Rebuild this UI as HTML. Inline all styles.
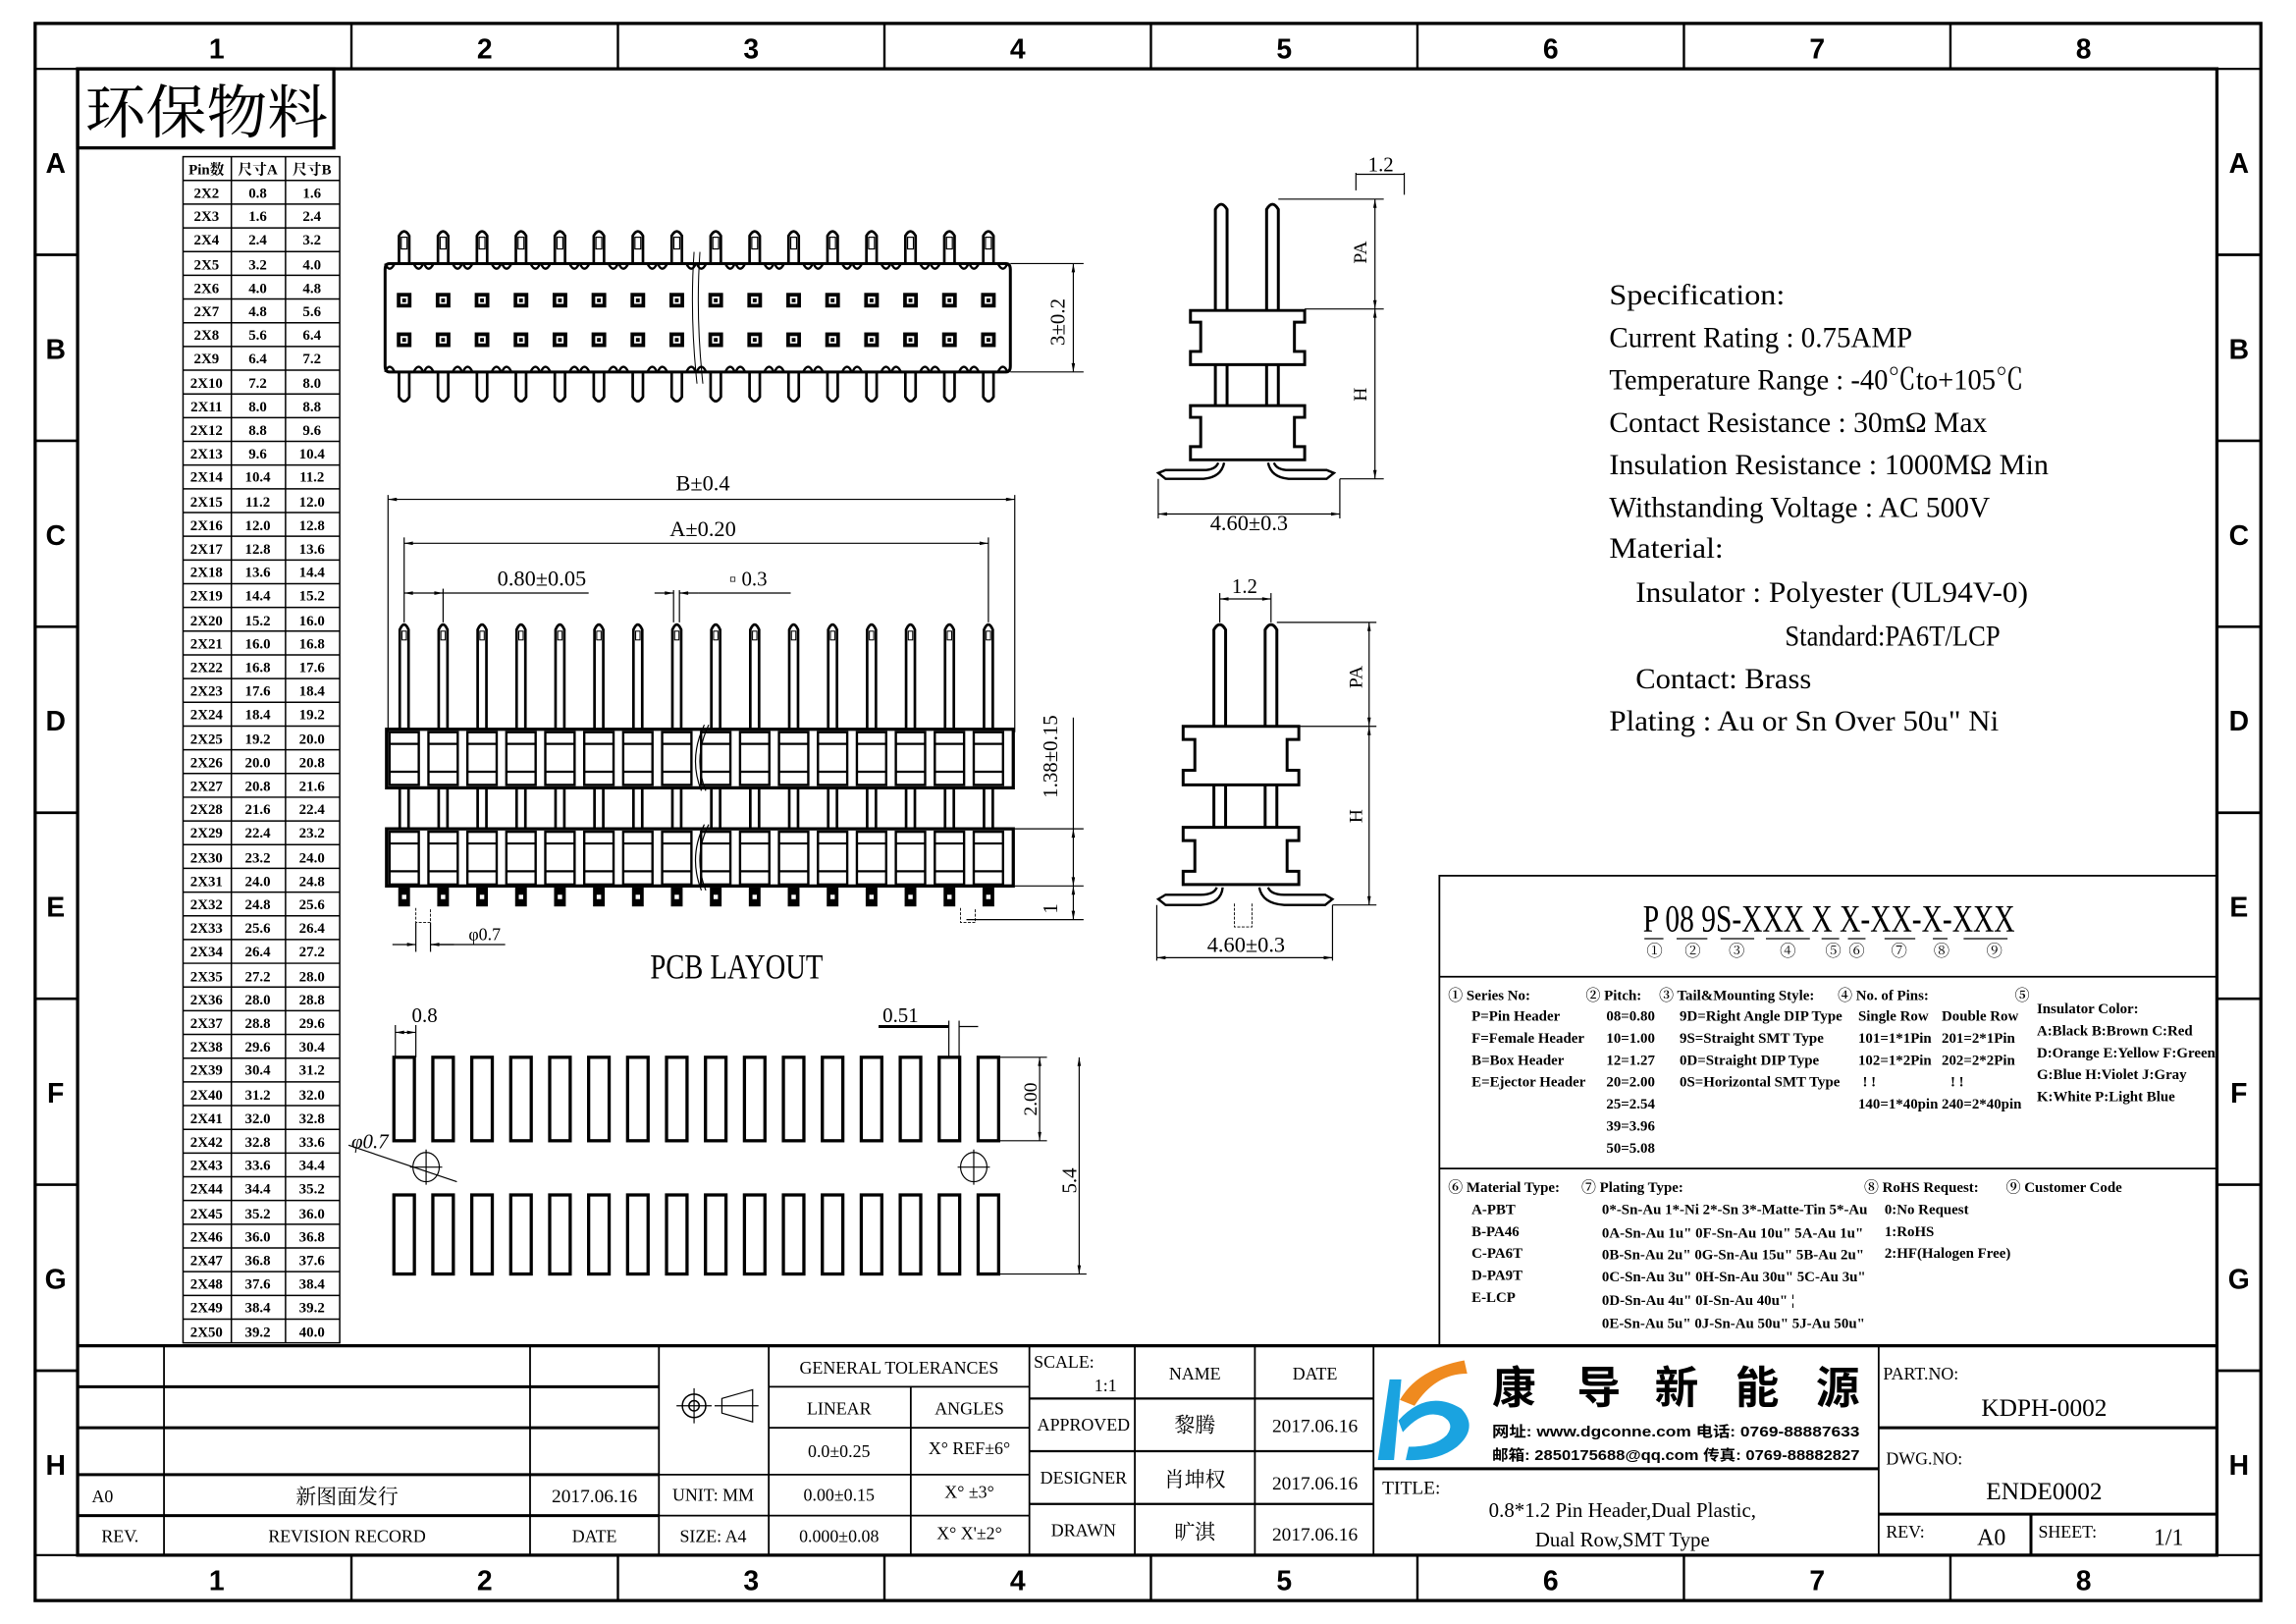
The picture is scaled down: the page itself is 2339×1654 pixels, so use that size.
<!DOCTYPE html>
<html><head><meta charset="utf-8"><style>
html,body{margin:0;padding:0;background:#fff}
svg{display:block}
text{font-family:"Liberation Sans Narrow","Liberation Serif","Noto Serif CJK SC",serif;fill:#000}
.c{font-family:"Liberation Sans","Noto Sans CJK SC",sans-serif;font-weight:bold}
</style></head><body>
<svg width="2339" height="1654" viewBox="0 0 1568 1109" preserveAspectRatio="none" xmlns="http://www.w3.org/2000/svg">
<defs>
<g id="tp"><path d="M-3.5 180 V161 Q0 155 3.5 161 V180" fill="none" stroke="#000" stroke-width="1.8"/><rect x="-2" y="162" width="4" height="8" fill="none" stroke="#000" stroke-width="0.8"/>
<path d="M-3.5 254 V271 Q0 277 3.5 271 V254" fill="none" stroke="#000" stroke-width="1.8"/>
<rect x="-5" y="200" width="10" height="10" fill="#000"/><rect x="-2.5" y="202.5" width="5" height="5" fill="#fff"/><rect x="-1.3" y="203.8" width="2.6" height="2.6" fill="#000"/>
<rect x="-5" y="227" width="10" height="10" fill="#000"/><rect x="-2.5" y="229.5" width="5" height="5" fill="#fff"/><rect x="-1.3" y="230.8" width="2.6" height="2.6" fill="#000"/>
<path d="M-13 180 Q-10 187 -6.5 180 M13 180 Q10 187 6.5 180 M-13 254 Q-10 247 -6.5 254 M13 254 Q10 247 6.5 254" fill="none" stroke="#000" stroke-width="1.6"/></g>
<g id="fp"><path d="M-3 498 V430 Q0 423 3 430 V498 M-3 538 V566 M3 538 V566" fill="none" stroke="#000" stroke-width="1.8"/><rect x="-1.5" y="431" width="3" height="6" fill="none" stroke="#000" stroke-width="0.7"/>
<rect x="-10" y="500" width="20" height="36" fill="none" stroke="#000" stroke-width="1.6"/><line x1="-10" y1="508" x2="10" y2="508" stroke="#000" stroke-width="1.5"/><line x1="-10" y1="527" x2="10" y2="527" stroke="#000" stroke-width="1.5"/>
<rect x="-10" y="568" width="20" height="36" fill="none" stroke="#000" stroke-width="1.6"/><line x1="-10" y1="576" x2="10" y2="576" stroke="#000" stroke-width="1.5"/><line x1="-10" y1="595" x2="10" y2="595" stroke="#000" stroke-width="1.5"/>
<rect x="-4" y="606" width="8" height="13" fill="#000"/><rect x="-1.5" y="611" width="3" height="3" fill="#fff"/></g>
<g id="pd"><rect x="-7" y="722" width="14" height="57" fill="none" stroke="#000" stroke-width="2.2"/><rect x="-7" y="816" width="14" height="54" fill="none" stroke="#000" stroke-width="2.2"/></g>
<marker id="ar" viewBox="0 0 10 4" refX="10" refY="2" markerWidth="8" markerHeight="3" orient="auto-start-reverse"><path d="M0 0L10 2L0 4z" fill="#000"/></marker>
</defs>

<!-- frame -->
<g fill="none" stroke="#000">
<rect x="24" y="16" width="1520" height="1077" stroke-width="2.2"/>
<rect x="53" y="47" width="1461" height="1015" stroke-width="2.2"/>
<line x1="24" y1="47" x2="1544" y2="47" stroke-width="1.5"/>
<line x1="24" y1="1062" x2="1544" y2="1062" stroke-width="1.5"/>
<path d="M240 16V47M422 16V47M604 16V47M786 16V47M968 16V47M1150 16V47M1332 16V47 M240 1062V1093M422 1062V1093M604 1062V1093M786 1062V1093M968 1062V1093M1150 1062V1093M1332 1062V1093" stroke-width="1.6"/>
<path d="M24 174H53M24 301H53M24 428H53M24 555H53M24 682H53M24 809H53M24 936H53 M1514 174H1544M1514 301H1544M1514 428H1544M1514 555H1544M1514 682H1544M1514 809H1544M1514 936H1544" stroke-width="1.8"/>
</g>
<g class="c" font-size="19" text-anchor="middle">
<text class="c" x="148" y="40">1</text><text class="c" x="331" y="40">2</text><text class="c" x="513" y="40">3</text><text class="c" x="695" y="40">4</text><text class="c" x="877" y="40">5</text><text class="c" x="1059" y="40">6</text><text class="c" x="1241" y="40">7</text><text class="c" x="1423" y="40">8</text>
<text class="c" x="148" y="1086">1</text><text class="c" x="331" y="1086">2</text><text class="c" x="513" y="1086">3</text><text class="c" x="695" y="1086">4</text><text class="c" x="877" y="1086">5</text><text class="c" x="1059" y="1086">6</text><text class="c" x="1241" y="1086">7</text><text class="c" x="1423" y="1086">8</text>
<text class="c" x="38" y="118">A</text><text class="c" x="38" y="245">B</text><text class="c" x="38" y="372">C</text><text class="c" x="38" y="499">D</text><text class="c" x="38" y="626">E</text><text class="c" x="38" y="753">F</text><text class="c" x="38" y="880">G</text><text class="c" x="38" y="1007">H</text>
<text class="c" x="1529" y="118">A</text><text class="c" x="1529" y="245">B</text><text class="c" x="1529" y="372">C</text><text class="c" x="1529" y="499">D</text><text class="c" x="1529" y="626">E</text><text class="c" x="1529" y="753">F</text><text class="c" x="1529" y="880">G</text><text class="c" x="1529" y="1007">H</text>
</g>

<!-- 环保物料 -->
<rect x="53" y="47" width="175" height="54" fill="none" stroke="#000" stroke-width="2.2"/>
<text x="141" y="91" font-size="40" text-anchor="middle" textLength="166" lengthAdjust="spacingAndGlyphs">环保物料</text>

<!-- pin table -->
<g fill="none" stroke="#000" stroke-width="1">
<rect x="125" y="107" width="107" height="810"/>
<line x1="158" y1="107" x2="158" y2="917"/><line x1="195" y1="107" x2="195" y2="917"/>
<path d="M125 123.2H232M125 139.4H232M125 155.6H232M125 171.8H232M125 188H232M125 204.2H232M125 220.4H232M125 236.6H232M125 252.8H232M125 269H232M125 285.2H232M125 301.4H232M125 317.6H232M125 333.8H232M125 350H232M125 366.2H232M125 382.4H232M125 398.6H232M125 414.8H232M125 431H232M125 447.2H232M125 463.4H232M125 479.6H232M125 495.8H232M125 512H232M125 528.2H232M125 544.4H232M125 560.6H232M125 576.8H232M125 593H232M125 609.2H232M125 625.4H232M125 641.6H232M125 657.8H232M125 674H232M125 690.2H232M125 706.4H232M125 722.6H232M125 738.8H232M125 755H232M125 771.2H232M125 787.4H232M125 803.6H232M125 819.8H232M125 836H232M125 852.2H232M125 868.4H232M125 884.6H232M125 900.8H232"/>
</g>
<g font-size="10" text-anchor="middle" font-weight="bold">
<text x="141" y="119">Pin数</text><text x="176" y="119">尺寸A</text><text x="213" y="119">尺寸B</text>
<text x="141" y="135">2X2</text><text x="176" y="135">0.8</text><text x="213" y="135">1.6</text>
<text x="141" y="151">2X3</text><text x="176" y="151">1.6</text><text x="213" y="151">2.4</text>
<text x="141" y="167">2X4</text><text x="176" y="167">2.4</text><text x="213" y="167">3.2</text>
<text x="141" y="184">2X5</text><text x="176" y="184">3.2</text><text x="213" y="184">4.0</text>
<text x="141" y="200">2X6</text><text x="176" y="200">4.0</text><text x="213" y="200">4.8</text>
<text x="141" y="216">2X7</text><text x="176" y="216">4.8</text><text x="213" y="216">5.6</text>
<text x="141" y="232">2X8</text><text x="176" y="232">5.6</text><text x="213" y="232">6.4</text>
<text x="141" y="248">2X9</text><text x="176" y="248">6.4</text><text x="213" y="248">7.2</text>
<text x="141" y="265">2X10</text><text x="176" y="265">7.2</text><text x="213" y="265">8.0</text>
<text x="141" y="281">2X11</text><text x="176" y="281">8.0</text><text x="213" y="281">8.8</text>
<text x="141" y="297">2X12</text><text x="176" y="297">8.8</text><text x="213" y="297">9.6</text>
<text x="141" y="313">2X13</text><text x="176" y="313">9.6</text><text x="213" y="313">10.4</text>
<text x="141" y="329">2X14</text><text x="176" y="329">10.4</text><text x="213" y="329">11.2</text>
<text x="141" y="346">2X15</text><text x="176" y="346">11.2</text><text x="213" y="346">12.0</text>
<text x="141" y="362">2X16</text><text x="176" y="362">12.0</text><text x="213" y="362">12.8</text>
<text x="141" y="378">2X17</text><text x="176" y="378">12.8</text><text x="213" y="378">13.6</text>
<text x="141" y="394">2X18</text><text x="176" y="394">13.6</text><text x="213" y="394">14.4</text>
<text x="141" y="410">2X19</text><text x="176" y="410">14.4</text><text x="213" y="410">15.2</text>
<text x="141" y="427">2X20</text><text x="176" y="427">15.2</text><text x="213" y="427">16.0</text>
<text x="141" y="443">2X21</text><text x="176" y="443">16.0</text><text x="213" y="443">16.8</text>
<text x="141" y="459">2X22</text><text x="176" y="459">16.8</text><text x="213" y="459">17.6</text>
<text x="141" y="475">2X23</text><text x="176" y="475">17.6</text><text x="213" y="475">18.4</text>
<text x="141" y="491">2X24</text><text x="176" y="491">18.4</text><text x="213" y="491">19.2</text>
<text x="141" y="508">2X25</text><text x="176" y="508">19.2</text><text x="213" y="508">20.0</text>
<text x="141" y="524">2X26</text><text x="176" y="524">20.0</text><text x="213" y="524">20.8</text>
<text x="141" y="540">2X27</text><text x="176" y="540">20.8</text><text x="213" y="540">21.6</text>
<text x="141" y="556">2X28</text><text x="176" y="556">21.6</text><text x="213" y="556">22.4</text>
<text x="141" y="572">2X29</text><text x="176" y="572">22.4</text><text x="213" y="572">23.2</text>
<text x="141" y="589">2X30</text><text x="176" y="589">23.2</text><text x="213" y="589">24.0</text>
<text x="141" y="605">2X31</text><text x="176" y="605">24.0</text><text x="213" y="605">24.8</text>
<text x="141" y="621">2X32</text><text x="176" y="621">24.8</text><text x="213" y="621">25.6</text>
<text x="141" y="637">2X33</text><text x="176" y="637">25.6</text><text x="213" y="637">26.4</text>
<text x="141" y="653">2X34</text><text x="176" y="653">26.4</text><text x="213" y="653">27.2</text>
<text x="141" y="670">2X35</text><text x="176" y="670">27.2</text><text x="213" y="670">28.0</text>
<text x="141" y="686">2X36</text><text x="176" y="686">28.0</text><text x="213" y="686">28.8</text>
<text x="141" y="702">2X37</text><text x="176" y="702">28.8</text><text x="213" y="702">29.6</text>
<text x="141" y="718">2X38</text><text x="176" y="718">29.6</text><text x="213" y="718">30.4</text>
<text x="141" y="734">2X39</text><text x="176" y="734">30.4</text><text x="213" y="734">31.2</text>
<text x="141" y="751">2X40</text><text x="176" y="751">31.2</text><text x="213" y="751">32.0</text>
<text x="141" y="767">2X41</text><text x="176" y="767">32.0</text><text x="213" y="767">32.8</text>
<text x="141" y="783">2X42</text><text x="176" y="783">32.8</text><text x="213" y="783">33.6</text>
<text x="141" y="799">2X43</text><text x="176" y="799">33.6</text><text x="213" y="799">34.4</text>
<text x="141" y="815">2X44</text><text x="176" y="815">34.4</text><text x="213" y="815">35.2</text>
<text x="141" y="832">2X45</text><text x="176" y="832">35.2</text><text x="213" y="832">36.0</text>
<text x="141" y="848">2X46</text><text x="176" y="848">36.0</text><text x="213" y="848">36.8</text>
<text x="141" y="864">2X47</text><text x="176" y="864">36.8</text><text x="213" y="864">37.6</text>
<text x="141" y="880">2X48</text><text x="176" y="880">37.6</text><text x="213" y="880">38.4</text>
<text x="141" y="896">2X49</text><text x="176" y="896">38.4</text><text x="213" y="896">39.2</text>
<text x="141" y="913">2X50</text><text x="176" y="913">39.2</text><text x="213" y="913">40.0</text>
</g>

<!-- top view -->
<path d="M266 180H687Q690 180 690 184V250Q690 254 687 254H266Q263 254 263 250V184Q263 180 266 180Z" fill="none" stroke="#000" stroke-width="2"/>
<g>
<use href="#tp" x="276"/><use href="#tp" x="302.6"/><use href="#tp" x="329.2"/><use href="#tp" x="355.8"/><use href="#tp" x="382.4"/><use href="#tp" x="409"/><use href="#tp" x="435.6"/><use href="#tp" x="462.2"/><use href="#tp" x="488.8"/><use href="#tp" x="515.4"/><use href="#tp" x="542"/><use href="#tp" x="568.6"/><use href="#tp" x="595.2"/><use href="#tp" x="621.8"/><use href="#tp" x="648.4"/><use href="#tp" x="675"/>
</g>
<path d="M474 172Q471 215 476 262M478 172Q475 215 480 262" fill="none" stroke="#000" stroke-width="0.7"/>
<g stroke="#000" stroke-width="0.8" fill="none"><path d="M690 180H740M690 254H740"/><line x1="733" y1="180" x2="733" y2="254" marker-start="url(#ar)" marker-end="url(#ar)"/></g>
<text x="0" y="0" font-size="14" transform="translate(727 236) rotate(-90)">3±0.2</text>

<!-- front view dims -->
<g stroke="#000" stroke-width="0.8" fill="none">
<line x1="265" y1="338" x2="265" y2="500"/><line x1="693" y1="338" x2="693" y2="500"/>
<line x1="265" y1="341" x2="693" y2="341" marker-start="url(#ar)" marker-end="url(#ar)"/>
<line x1="276" y1="367" x2="276" y2="425"/><line x1="675" y1="367" x2="675" y2="425"/>
<line x1="276" y1="371" x2="675" y2="371" marker-start="url(#ar)" marker-end="url(#ar)"/>
<line x1="302.6" y1="402" x2="302.6" y2="425"/>
<line x1="276" y1="405" x2="302.6" y2="405" marker-start="url(#ar)" marker-end="url(#ar)"/><line x1="302" y1="405" x2="402" y2="405"/>
<line x1="460" y1="403" x2="460" y2="425"/><line x1="464" y1="403" x2="464" y2="425"/>
<line x1="447" y1="405" x2="460" y2="405" marker-end="url(#ar)"/><line x1="477" y1="405" x2="464" y2="405" marker-end="url(#ar)"/><line x1="477" y1="405" x2="540" y2="405"/>
<path d="M693 566H740M693 605H740M660 628H740"/>
<line x1="733" y1="490" x2="733" y2="566"/>
<line x1="733" y1="566" x2="733" y2="605" marker-start="url(#ar)" marker-end="url(#ar)"/>
<line x1="733" y1="605" x2="733" y2="628" marker-start="url(#ar)" marker-end="url(#ar)"/>
</g>
<text x="480" y="335" font-size="15" text-anchor="middle">B±0.4</text>
<text x="480" y="366" font-size="15" text-anchor="middle">A±0.20</text>
<text x="370" y="400" font-size="15" text-anchor="middle">0.80±0.05</text>
<text x="498" y="400" font-size="14">▫ 0.3</text>
<text font-size="14" transform="translate(722 545) rotate(-90)">1.38±0.15</text>
<text font-size="14" transform="translate(722 624) rotate(-90)">1</text>

<rect x="264" y="498" width="428" height="40" fill="none" stroke="#000" stroke-width="2.2"/>
<rect x="264" y="566" width="428" height="39" fill="none" stroke="#000" stroke-width="2.2"/>
<g>
<use href="#fp" x="276"/><use href="#fp" x="302.6"/><use href="#fp" x="329.2"/><use href="#fp" x="355.8"/><use href="#fp" x="382.4"/><use href="#fp" x="409"/><use href="#fp" x="435.6"/><use href="#fp" x="462.2"/><use href="#fp" x="488.8"/><use href="#fp" x="515.4"/><use href="#fp" x="542"/><use href="#fp" x="568.6"/><use href="#fp" x="595.2"/><use href="#fp" x="621.8"/><use href="#fp" x="648.4"/><use href="#fp" x="675"/>
</g>
<path d="M481 495Q470 518 479 540M484 495Q473 518 482 540M481 563Q470 585 479 608M484 563Q473 585 482 608" fill="none" stroke="#000" stroke-width="0.8"/>
<path d="M284 620V630H294V620M656 620V630H666V620" fill="none" stroke="#000" stroke-width="0.6" stroke-dasharray="2 1"/>
<g stroke="#000" stroke-width="0.8" fill="none"><line x1="284" y1="630" x2="284" y2="650"/><line x1="294" y1="630" x2="294" y2="650"/><line x1="268" y1="645" x2="284" y2="645" marker-end="url(#ar)"/><line x1="310" y1="645" x2="294" y2="645" marker-end="url(#ar)"/><line x1="294" y1="645" x2="345" y2="645"/></g>
<text x="320" y="642" font-size="12">φ0.7</text>
<text x="503" y="668" font-size="24" text-anchor="middle" textLength="118" lengthAdjust="spacingAndGlyphs">PCB  LAYOUT</text>

<!-- PCB layout -->
<g>
<use href="#pd" x="276"/><use href="#pd" x="302.6"/><use href="#pd" x="329.2"/><use href="#pd" x="355.8"/><use href="#pd" x="382.4"/><use href="#pd" x="409"/><use href="#pd" x="435.6"/><use href="#pd" x="462.2"/><use href="#pd" x="488.8"/><use href="#pd" x="515.4"/><use href="#pd" x="542"/><use href="#pd" x="568.6"/><use href="#pd" x="595.2"/><use href="#pd" x="621.8"/><use href="#pd" x="648.4"/><use href="#pd" x="675"/>
</g>
<g stroke="#000" stroke-width="0.8" fill="none">
<ellipse cx="291" cy="797" rx="9" ry="10"/><path d="M280 797H302M291 785V809"/>
<ellipse cx="665" cy="797" rx="9" ry="10"/><path d="M654 797H676M665 785V809"/>
<path d="M238 782L312 807"/>
<line x1="270" y1="700" x2="270" y2="722"/><line x1="284" y1="700" x2="284" y2="722"/>
<line x1="270" y1="705" x2="284" y2="705" marker-start="url(#ar)" marker-end="url(#ar)"/>
<line x1="648" y1="697" x2="648" y2="722"/><line x1="655" y1="697" x2="655" y2="722"/>
<line x1="600" y1="701" x2="648" y2="701" stroke-width="2"/><line x1="655" y1="701" x2="668" y2="701"/>
<path d="M682 722H715M682 870H742M682 779H715"/>
<line x1="710" y1="722" x2="710" y2="779" marker-start="url(#ar)" marker-end="url(#ar)"/>
<line x1="737" y1="722" x2="737" y2="870" marker-start="url(#ar)" marker-end="url(#ar)"/>
</g>
<text x="290" y="698" font-size="14" text-anchor="middle">0.8</text>
<text x="615" y="698" font-size="14" text-anchor="middle">0.51</text>
<text x="240" y="784" font-size="14" font-style="italic">φ0.7</text>
<text font-size="13" transform="translate(708 762) rotate(-90)">2.00</text>
<text font-size="14" transform="translate(735 815) rotate(-90)">5.4</text>

<!-- side view 1 -->
<g stroke="#000" stroke-width="2" fill="none">
<path d="M830 212V143Q834 136 838 143V212M865 212V143Q869 136 873 143V212M830 249V277M838 249V277M865 249V277M873 249V277"/>
<path d="M813 212H891V220H884V240H891V249H813V240H820V220H813Z"/>
<path d="M813 277H891V285H884V305H891V314H813V305H820V285H813Z"/>
<path d="M832 316Q830 321 822 321H796L791 323L796 327H822Q834 326 836 316M870 316Q872 321 880 321H906L911 323L906 327H880Q868 326 866 316" stroke-width="1.6"/>
</g>
<g stroke="#000" stroke-width="0.8" fill="none">
<path d="M873 136H945M891 211H945M915 327H945"/>
<line x1="939" y1="136" x2="939" y2="211" marker-start="url(#ar)" marker-end="url(#ar)"/>
<line x1="939" y1="211" x2="939" y2="327" marker-start="url(#ar)" marker-end="url(#ar)"/>
<line x1="926" y1="118" x2="926" y2="130"/><line x1="959" y1="118" x2="959" y2="133"/><line x1="926" y1="119" x2="959" y2="119"/>
<path d="M791 327V354M915 327V354"/>
<line x1="791" y1="351" x2="915" y2="351" marker-start="url(#ar)" marker-end="url(#ar)"/>
</g>
<text x="943" y="117" font-size="14" text-anchor="middle">1.2</text>
<text font-size="13" transform="translate(933 180) rotate(-90)">PA</text>
<text font-size="13" transform="translate(933 274) rotate(-90)">H</text>
<text x="853" y="362" font-size="15" text-anchor="middle">4.60±0.3</text>

<!-- side view 2 -->
<g stroke="#000" stroke-width="2" fill="none">
<path d="M829 496V430Q833 423 837 430V496M864 496V430Q868 423 872 430V496M829 536V565M837 536V565M864 536V565M872 536V565"/>
<path d="M808 496H887V505H879V526H887V536H808V526H816V505H808Z"/>
<path d="M808 565H887V574H879V595H887V604H808V595H816V574H808Z"/>
<path d="M831 606Q829 611 820 611H796L791 614L796 618H820Q834 617 835 606M866 606Q868 611 877 611H905L910 614L905 618H877Q862 617 860 606" stroke-width="1.6"/>
</g>
<path d="M843 617V633H855V617" fill="none" stroke="#000" stroke-width="0.6" stroke-dasharray="2 1"/>
<g stroke="#000" stroke-width="0.8" fill="none">
<path d="M872 425H940M887 496H940M910 618H940"/>
<line x1="935" y1="425" x2="935" y2="496" marker-start="url(#ar)" marker-end="url(#ar)"/>
<line x1="935" y1="496" x2="935" y2="618" marker-start="url(#ar)" marker-end="url(#ar)"/>
<line x1="833" y1="405" x2="833" y2="425"/><line x1="868" y1="405" x2="868" y2="425"/>
<line x1="833" y1="409" x2="868" y2="409" marker-start="url(#ar)" marker-end="url(#ar)"/>
<path d="M790 618V656M910 618V656"/>
<line x1="790" y1="654" x2="910" y2="654" marker-start="url(#ar)" marker-end="url(#ar)"/>
</g>
<text x="850" y="405" font-size="14" text-anchor="middle">1.2</text>
<text font-size="13" transform="translate(930 470) rotate(-90)">PA</text>
<text font-size="13" transform="translate(930 562) rotate(-90)">H</text>
<text x="851" y="650" font-size="15" text-anchor="middle">4.60±0.3</text>

<!-- specification -->
<g font-size="20">
<text x="1099" y="208" textLength="120" lengthAdjust="spacingAndGlyphs">Specification:</text>
<text x="1099" y="237" textLength="207" lengthAdjust="spacingAndGlyphs">Current Rating : 0.75AMP</text>
<text x="1099" y="266" textLength="283" lengthAdjust="spacingAndGlyphs">Temperature Range : -40℃to+105℃</text>
<text x="1099" y="295" textLength="258" lengthAdjust="spacingAndGlyphs">Contact Resistance : 30mΩ Max</text>
<text x="1099" y="324" textLength="300" lengthAdjust="spacingAndGlyphs">Insulation Resistance : 1000MΩ Min</text>
<text x="1099" y="353" textLength="260" lengthAdjust="spacingAndGlyphs">Withstanding Voltage : AC 500V</text>
<text x="1099" y="381" textLength="78" lengthAdjust="spacingAndGlyphs">Material:</text>
<text x="1117" y="411" textLength="268" lengthAdjust="spacingAndGlyphs">Insulator : Polyester (UL94V-0)</text>
<text x="1219" y="441" textLength="147" lengthAdjust="spacingAndGlyphs">Standard:PA6T/LCP</text>
<text x="1117" y="470" textLength="120" lengthAdjust="spacingAndGlyphs">Contact: Brass</text>
<text x="1099" y="499" textLength="266" lengthAdjust="spacingAndGlyphs">Plating : Au or Sn Over 50u" Ni</text>
</g>

<!-- part number code box -->
<g fill="none" stroke="#000" stroke-width="1.2">
<rect x="983" y="598" width="531" height="321"/>
<path d="M983 667H1514M983 798H1514"/>
<path d="M1123 641H1136M1145 641H1166M1175 641H1198M1206 641H1236M1244 641H1256M1262 641H1274M1287 641H1308M1320 641H1330M1341 641H1371" stroke-width="0.8"/>
</g>
<text x="1249" y="636" font-size="26" text-anchor="middle" textLength="254" lengthAdjust="spacingAndGlyphs">P 08 9S-XXX X X-XX-X-XXX</text>
<g font-size="11" text-anchor="middle">
<text x="1130" y="653">①</text><text x="1156" y="653">②</text><text x="1186" y="653">③</text><text x="1221" y="653">④</text><text x="1252" y="653">⑤</text><text x="1268" y="653">⑥</text><text x="1297" y="653">⑦</text><text x="1326" y="653">⑧</text><text x="1362" y="653">⑨</text>
</g>
<g font-size="10" font-weight="bold">
<text x="989" y="683">① Series No:</text><text x="1005" y="697">P=Pin Header</text><text x="1005" y="712">F=Female Header</text><text x="1005" y="727">B=Box Header</text><text x="1005" y="742">E=Ejector Header</text>
<text x="1083" y="683">② Pitch:</text><text x="1097" y="697">08=0.80</text><text x="1097" y="712">10=1.00</text><text x="1097" y="727">12=1.27</text><text x="1097" y="742">20=2.00</text><text x="1097" y="757">25=2.54</text><text x="1097" y="772">39=3.96</text><text x="1097" y="787">50=5.08</text>
<text x="1133" y="683">③ Tail&amp;Mounting Style:</text><text x="1147" y="697">9D=Right Angle DIP Type</text><text x="1147" y="712">9S=Straight SMT Type</text><text x="1147" y="727">0D=Straight DIP Type</text><text x="1147" y="742">0S=Horizontal SMT Type</text>
<text x="1255" y="683">④ No. of Pins:</text><text x="1269" y="697">Single Row</text><text x="1326" y="697">Double Row</text><text x="1269" y="712">101=1*1Pin</text><text x="1326" y="712">201=2*1Pin</text><text x="1269" y="727">102=1*2Pin</text><text x="1326" y="727">202=2*2Pin</text><text x="1272" y="742">!  !</text><text x="1332" y="742">!  !</text><text x="1269" y="757">140=1*40pin</text><text x="1326" y="757">240=2*40pin</text>
<text x="1376" y="683">⑤</text><text x="1391" y="692">Insulator Color:</text><text x="1391" y="707">A:Black  B:Brown  C:Red</text><text x="1391" y="722">D:Orange E:Yellow F:Green</text><text x="1391" y="737">G:Blue   H:Violet J:Gray</text><text x="1391" y="752">K:White  P:Light Blue</text>
<text x="989" y="814">⑥ Material Type:</text><text x="1005" y="829">A-PBT</text><text x="1005" y="844">B-PA46</text><text x="1005" y="859">C-PA6T</text><text x="1005" y="874">D-PA9T</text><text x="1005" y="889">E-LCP</text>
<text x="1080" y="814">⑦ Plating Type:</text><text x="1094" y="829">0*-Sn-Au 1*-Ni 2*-Sn 3*-Matte-Tin 5*-Au</text><text x="1094" y="845">0A-Sn-Au 1u" 0F-Sn-Au 10u"  5A-Au 1u"</text><text x="1094" y="860">0B-Sn-Au 2u" 0G-Sn-Au 15u"  5B-Au 2u"</text><text x="1094" y="875">0C-Sn-Au 3u" 0H-Sn-Au 30u"  5C-Au 3u"</text><text x="1094" y="891">0D-Sn-Au 4u" 0I-Sn-Au 40u"     ¦</text><text x="1094" y="907">0E-Sn-Au 5u" 0J-Sn-Au 50u"  5J-Au 50u"</text>
<text x="1273" y="814">⑧ RoHS Request:</text><text x="1287" y="829">0:No Request</text><text x="1287" y="844">1:RoHS</text><text x="1287" y="859">2:HF(Halogen Free)</text>
<text x="1370" y="814">⑨ Customer Code</text>
</g>

<!-- title block -->
<g fill="none" stroke="#000">
<line x1="53" y1="919" x2="1514" y2="919" stroke-width="2.2"/>
<path d="M53 947H450M53 975H450M53 1007H450M53 1035H450" stroke-width="2"/>
<path d="M112 919V1062M362 919V1062M450 919V1062M525 919V1062M703 919V1062M775 919V1062M857 919V1062M938 919V1062M1283 919V1062" stroke-width="1.2"/>
<path d="M525 947H703M525 975H703M450 1007H703M450 1035H703M622 947V1062" stroke-width="1.2"/>
<path d="M703 955H938M703 991H938M703 1027H938" stroke-width="1.5"/>
<path d="M938 1003H1283M1283 975H1514M1283 1034H1514M1387 1034V1062" stroke-width="2"/>
<circle cx="474" cy="960" r="8" stroke-width="1"/><circle cx="474" cy="960" r="3.5" stroke-width="1"/><path d="M462 960H486M474 948V972M493 955L514 949V971L493 965ZM488 960H518" stroke-width="0.8"/>
</g>
<g font-size="12" text-anchor="middle">
<text x="614" y="938">GENERAL TOLERANCES</text><text x="573" y="966">LINEAR</text><text x="662" y="966">ANGLES</text>
<text x="573" y="995">0.0±0.25</text><text x="662" y="993">X° REF±6°</text>
<text x="573" y="1025">0.00±0.15</text><text x="662" y="1023">X° ±3°</text>
<text x="573" y="1053">0.000±0.08</text><text x="662" y="1051">X° X'±2°</text>
<text x="487" y="1025">UNIT: MM</text><text x="487" y="1053">SIZE: A4</text>
<text x="70" y="1026">A0</text><text x="237" y="1027" font-size="14">新图面发行</text><text x="406" y="1026" font-size="13">2017.06.16</text>
<text x="82" y="1053">REV.</text><text x="237" y="1053">REVISION RECORD</text><text x="406" y="1053">DATE</text>
<text x="706" y="934" text-anchor="start">SCALE:</text><text x="755" y="950">1:1</text>
<text x="816" y="942">NAME</text><text x="898" y="942">DATE</text>
<text x="740" y="977">APPROVED</text><text x="816" y="978" font-size="14">黎腾</text><text x="898" y="978" font-size="13">2017.06.16</text>
<text x="740" y="1013">DESIGNER</text><text x="816" y="1015" font-size="14">肖坤权</text><text x="898" y="1017" font-size="13">2017.06.16</text>
<text x="740" y="1049">DRAWN</text><text x="816" y="1051" font-size="14">旷淇</text><text x="898" y="1052" font-size="13">2017.06.16</text>
</g>
<!-- logo -->
<path d="M949 942L957 942L952 997L941 997Z" fill="#1aa3e0"/>
<path d="M955 970Q975 948 998 962Q1010 975 995 988Q982 998 960 997L962 988Q980 988 988 980Q994 972 985 967Q972 962 958 978Z" fill="#1aa3e0"/>
<path d="M956 956Q968 935 1000 929L1002 938Q980 938 966 960Z" fill="#ef8a1f"/>
<g class="c" font-size="30" text-anchor="middle"><text class="c" x="1034" y="958">康</text><text class="c" x="1092" y="958">导</text><text class="c" x="1145" y="958">新</text><text class="c" x="1200" y="958">能</text><text class="c" x="1255" y="958">源</text></g>
<text class="c" x="1019" y="981" font-size="10" textLength="251" lengthAdjust="spacingAndGlyphs">网址: www.dgconne.com     电话: 0769-88887633</text>
<text class="c" x="1019" y="997" font-size="10" textLength="251" lengthAdjust="spacingAndGlyphs">邮箱: 2850175688@qq.com 传真: 0769-88882827</text>
<text x="944" y="1020" font-size="13">TITLE:</text>
<text x="1108" y="1036" font-size="14" text-anchor="middle">0.8*1.2 Pin Header,Dual Plastic,</text>
<text x="1108" y="1056" font-size="14" text-anchor="middle">Dual Row,SMT Type</text>
<text x="1286" y="942" font-size="12">PART.NO:</text>
<text x="1396" y="967" font-size="17" text-anchor="middle">KDPH-0002</text>
<text x="1288" y="1000" font-size="12">DWG.NO:</text>
<text x="1396" y="1024" font-size="17" text-anchor="middle">ENDE0002</text>
<text x="1288" y="1050" font-size="12">REV:</text><text x="1360" y="1055" font-size="16" text-anchor="middle">A0</text>
<text x="1392" y="1050" font-size="12">SHEET:</text><text x="1481" y="1055" font-size="16" text-anchor="middle">1/1</text>
</svg>
</body></html>
